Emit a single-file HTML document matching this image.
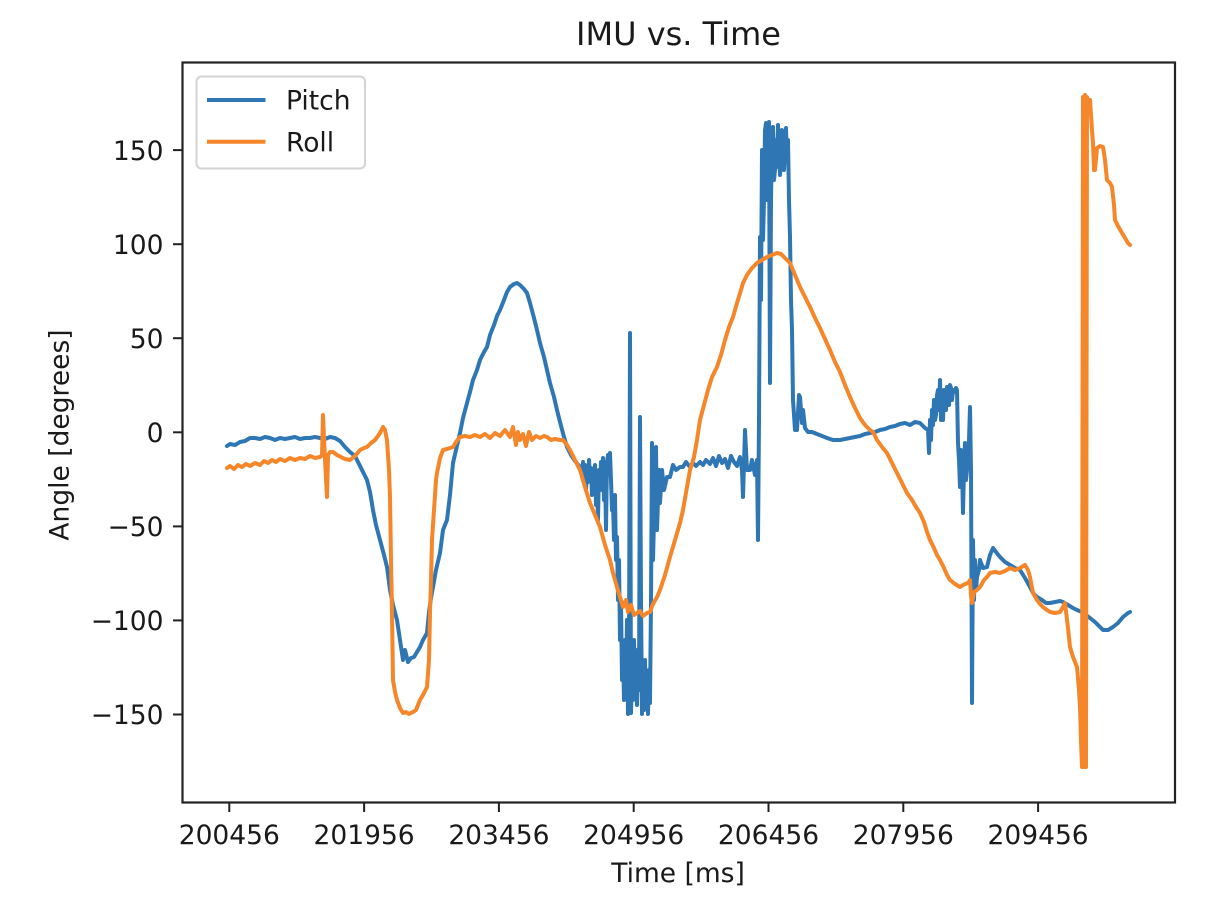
<!DOCTYPE html>
<html>
<head>
<meta charset="utf-8">
<style>
html,body{margin:0;padding:0;background:#fff;}
svg{display:block;}
text{font-family:"DejaVu Sans","Liberation Sans",sans-serif;fill:#1a1a1a;}
</style>
</head>
<body>
<svg width="1232" height="908" viewBox="0 0 1232 908" xmlns="http://www.w3.org/2000/svg">
<rect x="0" y="0" width="1232" height="908" fill="#ffffff"/>

<!-- Title -->
<text x="678.5" y="45" font-size="32" text-anchor="middle">IMU vs. Time</text>

<!-- Pitch -->
<polyline fill="none" stroke="#2f77b4" stroke-width="4" stroke-linejoin="round" stroke-linecap="round" points="
227,446 230,444 235,445 240,442 245,441 250,438 255,438 260,439 265,437 270,438 275,440 280,438 285,439 290,438 295,437 300,439 305,438 310,438 315,437 320,438 325,439 330,437 335,438 340,441 345,447 350,452 355,456 358,462 362,470 367,480 370,492 373,510 376,525 380,540 384,555 387,567 390,590 393,605 397,620 400,640 403,660 405,650 408,662 411,658 414,657 417,652 420,647 423,640 427,633 429,612 431,598 433,587 436,570 440,553 443,530 447,520 450,495 453,463 456,450 460,433 463,418 467,403 470,392 473,380 477,370 480,360 484,352 487,347 490,335 494,325 497,316 500,310 504,300 507,292 510,287 514,284 517,283 520,285 524,289 527,293 530,303 534,318 537,330 540,343 544,357 547,370 550,383 554,397 557,410 560,422 564,437 567,447 571,455 575,461 580,467 582,475 583,462 584,480 585,465 586,490 587,470 588,482 589,460 590,478 591,468 592,495 593,472 594,485 595,465 596,505 597,478 598,520 599,470 600,485 601,462 602,490 603,458 604,500 605,470 606,530 607,462 608,455 609,470 610,453 611,480 612,510 613,503 614,540 615,495 616,560 617,537 618,600 619,560 620,640 621,603 622,680 623,653 624,700 625,640 626,690 627,620 628,714 629,660 630,333 631,713 632,670 633,700 634,640 635,690 636,650 637,705 638,660 639,690 640,417 641,600 642,714 643,680 644,710 645,660 646,705 647,690 648,714 649,670 650,703 651,600 652,443 653,560 654,520 655,470 656,447 657,530 658,500 659,470 660,503 662,470 664,490 667,477 670,477 673,465 676,470 680,467 683,467 686,462 690,467 693,463 696,466 700,462 703,465 706,460 710,464 713,458 716,466 719,456 722,463 725,459 728,468 731,456 734,462 737,466 740,457 742,470 743,497 745,430 747,470 750,470 752,460 755,475 757,460 758,540 759,420 760,237 761,300 762,150 763,240 764,200 765,130 766,123 767,200 768,160 769,122 770,383 771,200 772,140 773,127 774,180 775,170 776,140 777,167 778,125 779,150 780,175 781,165 782,130 783,133 784,170 785,150 786,128 787,160 788,140 789,200 790,237 791,300 792,330 793,400 795,430 797,430 799,395 800,397 802,423 803,410 805,428 808,432 812,432 817,434 822,436 827,438 833,440 840,440 845,439 850,438 855,437 860,436 865,434 870,433 875,432 880,430 885,429 890,427 895,426 900,424 905,423 910,425 915,422 920,423 925,428 928,430 929,453 930,420 931,440 932,410 933,425 934,400 935,420 936,415 937,395 938,390 939,410 940,380 941,420 942,415 943,420 944,390 945,395 946,410 947,387 948,400 949,405 950,385 951,388 952,400 953,390 954,392 955,392 956,388 957,390 958,443 959,460 960,487 961,450 962,470 963,513 964,470 965,443 966,480 967,470 968,467 969,440 970,407 971,470 972,703 973,540 974,600 975,560 976,590 977,577 979,570 980,560 983,568 987,567 990,555 993,548 996,552 1000,557 1005,562 1010,565 1015,568 1020,570 1025,578 1030,587 1033,593 1037,597 1042,600 1046,603 1050,603 1055,602 1060,601 1063,602 1068,605 1073,608 1077,610 1082,612 1086,615 1090,618 1095,622 1100,627 1103,630 1108,630 1113,627 1118,623 1123,617 1128,613 1130,612"/>

<!-- Roll -->
<polyline fill="none" stroke="#f5862a" stroke-width="4" stroke-linejoin="round" stroke-linecap="round" points="
227,468 230,466 234,469 238,465 242,467 246,464 250,466 255,463 260,465 264,461 268,463 272,460 276,462 280,459 285,461 290,458 295,460 300,458 305,459 310,456 315,458 320,457 322,455 323,415 325,460 327,497 328,455 330,452 333,452 337,455 341,457 345,459 350,460 355,456 360,450 364,448 367,447 371,443 375,440 378,436 380,433 383,427 385,430 387,440 389,470 390,497 391,560 392,613 393,680 395,692 397,700 400,708 403,713 406,712 409,714 413,712 416,710 420,700 423,695 427,687 429,660 430,613 431,580 432,540 434,510 436,480 437,473 440,458 443,450 447,449 450,448 453,447 456,442 460,437 465,436 470,437 475,435 480,437 485,434 490,438 495,433 500,436 505,430 510,437 513,427 516,445 518,432 520,440 523,434 526,446 529,432 532,440 536,436 540,438 544,436 547,437 551,440 555,439 560,440 563,440 567,445 570,450 575,460 580,470 585,487 590,503 595,515 600,527 605,545 610,560 613,573 617,587 620,597 623,607 626,600 628,612 631,605 634,615 637,613 640,611 643,616 647,613 650,612 653,604 657,597 660,590 665,575 670,557 675,540 680,523 683,510 687,487 690,470 694,457 697,440 700,420 704,405 708,390 712,377 717,367 721,355 725,340 729,327 733,317 737,303 741,290 743,283 747,275 752,268 757,263 762,260 767,257 772,255 777,253 781,254 785,258 790,263 795,275 800,287 805,297 810,307 815,318 820,328 825,339 830,350 835,362 840,372 845,385 850,397 855,408 860,418 865,425 870,430 873,432 877,440 882,447 887,453 892,463 897,473 902,483 907,493 912,500 916,507 920,513 924,522 927,532 930,540 934,548 937,555 940,560 944,568 947,575 950,580 955,584 960,587 965,584 968,583 970,580 971,595 972,603 974,592 977,590 980,587 984,580 987,577 990,573 995,572 1000,573 1005,571 1010,568 1015,570 1020,568 1025,565 1028,570 1030,577 1033,593 1037,600 1040,604 1043,607 1047,610 1050,612 1055,613 1060,612 1063,607 1065,603 1068,628 1070,647 1073,657 1077,667 1079,690 1080,707 1081,740 1082,767 1083,97 1084,767 1085,95 1086,767 1087,97 1088,100 1090,100 1092,130 1093,143 1094,170 1095,170 1097,148 1100,146 1103,147 1105,160 1107,180 1110,183 1112,187 1114,205 1115,220 1118,226 1122,233 1125,238 1128,243 1130,245"/>

<!-- Axes frame -->
<rect x="182.5" y="62.5" width="992.5" height="740" fill="none" stroke="#222" stroke-width="2.2"/>

<!-- Y ticks -->
<g stroke="#222" stroke-width="2">
<line x1="173" y1="150.1" x2="182.5" y2="150.1"/>
<line x1="173" y1="244.2" x2="182.5" y2="244.2"/>
<line x1="173" y1="338.2" x2="182.5" y2="338.2"/>
<line x1="173" y1="432.3" x2="182.5" y2="432.3"/>
<line x1="173" y1="526.4" x2="182.5" y2="526.4"/>
<line x1="173" y1="620.4" x2="182.5" y2="620.4"/>
<line x1="173" y1="714.5" x2="182.5" y2="714.5"/>
</g>
<g font-size="26.5" text-anchor="end">
<text x="163.5" y="159.8">150</text>
<text x="163.5" y="253.9">100</text>
<text x="163.5" y="347.9">50</text>
<text x="163.5" y="442">0</text>
<text x="163.5" y="536.1">−50</text>
<text x="163.5" y="630.1">−100</text>
<text x="163.5" y="724.2">−150</text>
</g>

<!-- X ticks -->
<g stroke="#222" stroke-width="2">
<line x1="229.3" y1="802.5" x2="229.3" y2="812"/>
<line x1="364.1" y1="802.5" x2="364.1" y2="812"/>
<line x1="498.9" y1="802.5" x2="498.9" y2="812"/>
<line x1="633.7" y1="802.5" x2="633.7" y2="812"/>
<line x1="768.5" y1="802.5" x2="768.5" y2="812"/>
<line x1="903.3" y1="802.5" x2="903.3" y2="812"/>
<line x1="1038.1" y1="802.5" x2="1038.1" y2="812"/>
</g>
<g font-size="26.5" text-anchor="middle">
<text x="229.3" y="844">200456</text>
<text x="364.1" y="844">201956</text>
<text x="498.9" y="844">203456</text>
<text x="633.7" y="844">204956</text>
<text x="768.5" y="844">206456</text>
<text x="903.3" y="844">207956</text>
<text x="1038.1" y="844">209456</text>
</g>

<!-- Axis labels -->
<text x="678" y="882" font-size="26.5" text-anchor="middle">Time [ms]</text>
<text transform="translate(68.5,435) rotate(-90)" font-size="26.5" text-anchor="middle">Angle [degrees]</text>

<!-- Legend -->
<rect x="196.5" y="76.5" width="168.5" height="92" rx="5" ry="5" fill="#ffffff" fill-opacity="0.85" stroke="#d4d4d4" stroke-width="2"/>
<line x1="207" y1="100" x2="265.5" y2="100" stroke="#2f77b4" stroke-width="4"/>
<line x1="207" y1="141.7" x2="265.5" y2="141.7" stroke="#f5862a" stroke-width="4"/>
<text x="286" y="109.5" font-size="26.5">Pitch</text>
<text x="286" y="151.5" font-size="26.5">Roll</text>
</svg>
</body>
</html>
